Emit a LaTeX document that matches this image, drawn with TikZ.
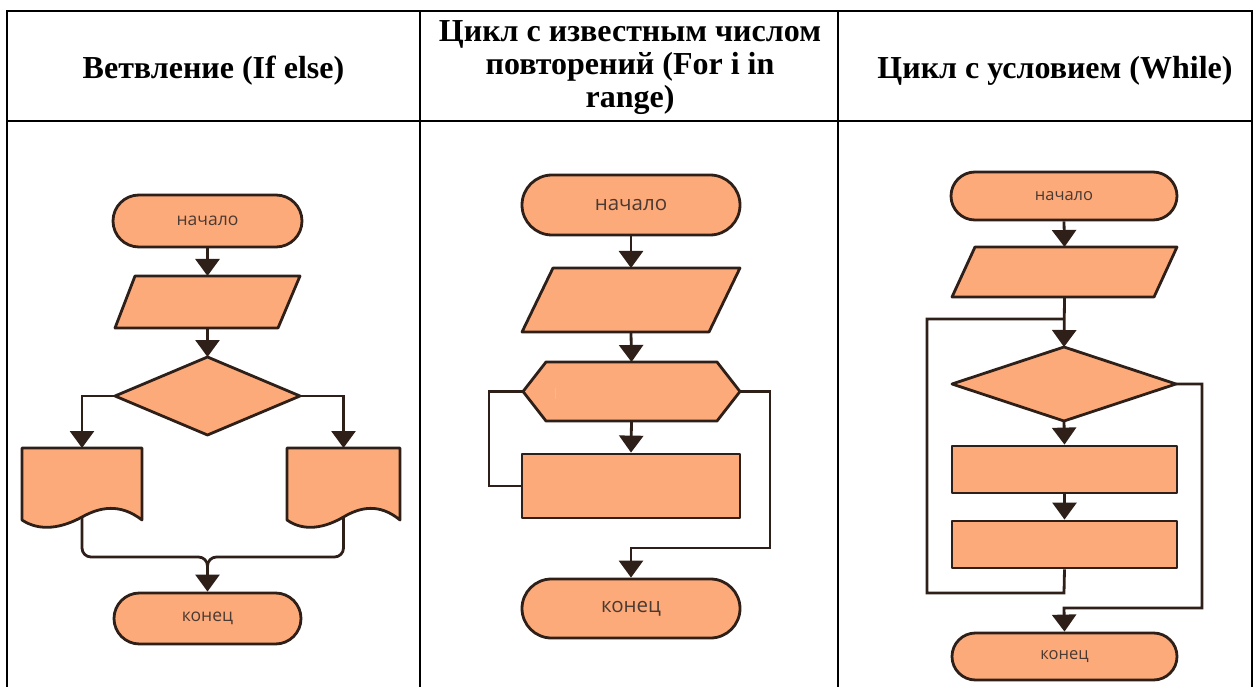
\documentclass[tikz,border=0pt]{standalone}
\usepackage{fontspec}
\setmainfont{Liberation Serif}
\newfontfamily\flowfont{Open Sans}
\usetikzlibrary{arrows.meta,calc}

\definecolor{shapefill}{HTML}{FDAA7A}
\definecolor{shapeline}{HTML}{2E2019}
\definecolor{labeltext}{HTML}{4A3A32}

\tikzset{
  gridline/.style={line width=2pt, draw=black},
  shapebase/.style={fill=shapefill, draw=shapeline, line width=2.8pt, line join=round},
  terminal/.style={shapebase, rectangle, rounded corners=#1, inner sep=0pt, text=labeltext},
  block/.style={shapebase, rectangle, inner sep=0pt},
  frame/.style={rectangle, inner sep=0pt, outer sep=0pt, draw=none},
  flow/.style={draw=shapeline, line width=2.8pt},
  arr/.style={flow, -{Triangle[width=24pt,length=17pt]}},
  head/.style={font=\fontsize{32}{36}\selectfont\bfseries, anchor=base, inner sep=0pt},
}

% document (wavy bottom) outline around an invisible frame node
\newcommand{\wavedoc}[1]{%
  \filldraw[shapebase] (#1.south west) -- (#1.north west) -- (#1.north east) -- (#1.south east)
    .. controls ($(#1.south west)!0.817!(#1.south east)+(0,-17)$)
       and ($(#1.south west)!0.65!(#1.south east)+(0,-13)$)
    .. ($(#1.south west)!0.5!(#1.south east)+(0,-3)$)
    .. controls ($(#1.south west)!0.333!(#1.south east)+(0,8)$)
       and ($(#1.south west)!0.15!(#1.south east)+(0,12)$)
    .. (#1.south west) -- cycle;}

\begin{document}
\begin{tikzpicture}[x=1pt,y=-1pt]
\useasboundingbox (0,0) rectangle (1259,687);

% ---------- table ----------
\draw[gridline] (7,687) -- (7,11) -- (1252,11) -- (1252,687);
\draw[gridline] (7,121.5) -- (1252,121.5);
\draw[gridline] (420,11) -- (420,687);
\draw[gridline] (838,11) -- (838,687);

\node[head] (h1) at (213.5,79) {Ветвление (If else)};
\node[head] (h2a) at (630,42) {Цикл с известным числом};
\node[head] (h2b) at (630,75) {повторений (For i in};
\node[head] (h2c) at (630,108) {range)};
\node[head] (h3) at (1055,79) {Цикл с условием (While)};

% ---------- branching ----------
\node[terminal=26pt, minimum width=189pt, minimum height=52pt,
      font=\flowfont\fontsize{17.5}{20}\selectfont] (s1) at (207.5,221) {начало};
\node[frame, minimum width=185pt, minimum height=52pt] (p1) at (207.5,302) {};
\filldraw[shapebase] ($(p1.north west)+(20,0)$) -- (p1.north east)
  -- ($(p1.south east)+(-22,0)$) -- (p1.south west) -- cycle;
\node[frame, minimum width=185pt, minimum height=78pt] (d1) at (207.5,396) {};
\filldraw[shapebase] (d1.north) -- (d1.east) -- (d1.south) -- (d1.west) -- cycle;
\node[frame, minimum width=120pt, minimum height=72pt] (dl) at (82,484) {};
\wavedoc{dl}
\node[frame, minimum width=113pt, minimum height=72pt] (dr) at (343.5,484) {};
\wavedoc{dr}
\node[terminal=25.5pt, minimum width=187pt, minimum height=51pt,
      font=\flowfont\fontsize{17.5}{20}\selectfont] (e1) at (207.5,618.5) {конец};

\draw[arr] (s1.south) -- (p1.north);
\draw[arr] (p1.south) -- (d1.north);
\draw[arr] (d1.west) -| (dl.north);
\draw[arr] (d1.east) -| (dr.north);
\coordinate (m1) at (207.5,557);
\coordinate (dlo) at ($(dl.south)+(0,-3)$);
\coordinate (dro) at ($(dr.south)+(0,-3)$);
\draw[flow, rounded corners=9pt] (dlo) |- (m1) -- ($(m1)+(0,16)$);
\draw[flow, rounded corners=9pt] (dro) |- (m1) -- ($(m1)+(0,16)$);
\draw[arr] ($(m1)+(0,8)$) -- (e1.north);

% ---------- for loop ----------
\node[terminal=30pt, minimum width=218pt, minimum height=60pt,
      font=\flowfont\fontsize{20.5}{24}\selectfont] (s2) at (631,205) {начало};
\node[frame, minimum width=218pt, minimum height=64pt] (p2) at (631,300) {};
\filldraw[shapebase] ($(p2.north west)+(31,0)$) -- (p2.north east)
  -- ($(p2.south east)+(-31,0)$) -- (p2.south west) -- cycle;
\node[frame, minimum width=217pt, minimum height=59pt] (x2) at (631.5,391.5) {};
\filldraw[shapebase] (x2.west) -- ($(x2.north west)+(23,0)$) -- ($(x2.north east)+(-23,0)$)
  -- (x2.east) -- ($(x2.south east)+(-23,0)$) -- ($(x2.south west)+(23,0)$) -- cycle;
\draw[gray!45, line width=0.8pt] (555,388) -- (555,399);
\node[block, minimum width=218pt, minimum height=64pt] (r2) at (631,486) {};
\node[terminal=29.5pt, minimum width=218pt, minimum height=59pt,
      font=\flowfont\fontsize{20.5}{24}\selectfont] (e2) at (631,608.5) {конец};

\draw[arr] (s2.south) -- (p2.north);
\draw[arr] (p2.south) -- (x2.north);
\draw[arr] (x2.south) -- (r2.north);
\coordinate (l2a) at (489,391.5);
\coordinate (l2b) at (489,486);
\draw[flow] (x2.west) -- (l2a) -- (l2b) -- (r2.west);
\coordinate (o2a) at (770,391.5);
\coordinate (o2b) at (770,548);
\coordinate (o2c) at (631,548);
\draw[arr] (x2.east) -- (o2a) -- (o2b) -- (o2c) -- (e2.north);

% ---------- while loop ----------
\node[terminal=24pt, minimum width=226pt, minimum height=48pt,
      font=\flowfont\fontsize{16.5}{20}\selectfont] (s3) at (1064,196) {начало};
\node[frame, minimum width=225pt, minimum height=50pt] (p3) at (1064.5,272) {};
\filldraw[shapebase] ($(p3.north west)+(23,0)$) -- (p3.north east)
  -- ($(p3.south east)+(-23,0)$) -- (p3.south west) -- cycle;
\node[frame, minimum width=224pt, minimum height=74pt] (d3) at (1064,384) {};
\filldraw[shapebase] (d3.north) -- (d3.east) -- (d3.south) -- (d3.west) -- cycle;
\node[block, minimum width=225pt, minimum height=47pt] (r3a) at (1064.5,469.5) {};
\node[block, minimum width=225pt, minimum height=47pt] (r3b) at (1064.5,544.5) {};
\node[terminal=23.5pt, minimum width=225pt, minimum height=47pt,
      font=\flowfont\fontsize{16.5}{20}\selectfont] (e3) at (1064.5,656.5) {конец};

\draw[arr] (s3.south) -- (p3.north);
\coordinate (j3) at (1064,319);
\draw[arr] (p3.south) -- (d3.north);
\draw[arr] (d3.south) -- (r3a.north);
\draw[arr] (r3a.south) -- (r3b.north);
\coordinate (l3a) at (1064,593);
\coordinate (l3b) at (927,593);
\coordinate (l3c) at (927,319);
\draw[flow] (r3b.south) -- (l3a) -- (l3b) -- (l3c) -- (j3);
\coordinate (o3a) at (1202,384);
\coordinate (o3b) at (1202,608);
\coordinate (o3c) at (1064,608);
\draw[arr] (d3.east) -- (o3a) -- (o3b) -- (o3c) -- (e3.north);
\end{tikzpicture}
\end{document}
